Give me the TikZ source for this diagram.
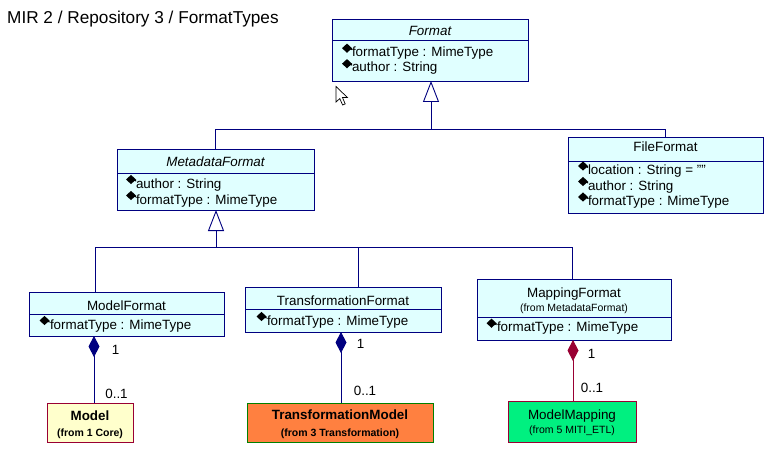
\documentclass[tikz,border=0pt]{standalone}
\usepackage{fontspec}
\setmainfont{Liberation Sans}
\usetikzlibrary{arrows.meta}
\definecolor{navy}{HTML}{000080}
\definecolor{clsfill}{HTML}{E0FFFF}
\definecolor{maroon}{HTML}{990033}
\definecolor{modelfill}{HTML}{FFFFCC}
\definecolor{orangefill}{HTML}{FF8040}
\definecolor{darkgreen}{HTML}{008000}
\definecolor{mapfill}{HTML}{00F080}
\tikzset{
  cls/.style={draw=navy, fill=clsfill, line width=0.9pt, inner sep=0pt, outer sep=0pt, anchor=north west},
  txt/.style={inner sep=0pt, outer sep=0pt, font=\fontsize{13.4}{16}\selectfont},
  cname/.style={txt, anchor=base},
  attr/.style={txt, anchor=base west},
  subtxt/.style={inner sep=0pt, outer sep=0pt, anchor=base, font=\fontsize{10.5}{12}\selectfont},
  mult/.style={txt, anchor=center},
  link/.style={draw=navy, line width=0.9pt},
  divline/.style={draw=navy, line width=0.9pt},
  gen/.style={link, -{Triangle[open, fill=white, length=21pt, width=16pt]}},
  comp/.style={link, {Diamond[length=21pt, width=11pt]}-},
  attricon/.pic={\fill (0,-4.6) -- (5,0) -- (0,4.6) -- (-5,0) -- cycle; \fill (0,0) -- (5,0) -- (5,2) -- cycle;}
}
\begin{document}
\begin{tikzpicture}[x=1pt,y=-1pt]
\useasboundingbox (0,0) rectangle (783,465);
\fill[white] (0,0) rectangle (783,465);

% title
\node[inner sep=0pt, anchor=base west, font=\fontsize{17.2}{20}\selectfont] (title) at (7,24) {MIR 2 / Repository 3 / FormatTypes};

% Format
\node[cls, minimum width=196pt, minimum height=62pt] (format) at (332,19) {};
\draw[divline] ([yshift=-21pt]format.north west) -- ([yshift=-21pt]format.north east);
\node[cname, font=\fontsize{13.4}{16}\selectfont\itshape] (formatname) at (430,35.7) {Format};
\pic at (347,48.2) {attricon};
\node[attr] (format1) at (352,56.5) {formatType : MimeType};
\pic at (347,63.7) {attricon};
\node[attr] (format2) at (352,72) {author : String};

% MetadataFormat
\node[cls, minimum width=197pt, minimum height=61pt] (metadata) at (117,149) {};
\draw[divline] ([yshift=-24pt]metadata.north west) -- ([yshift=-24pt]metadata.north east);
\node[cname, font=\fontsize{13.4}{16}\selectfont\itshape] (metaname) at (215.5,167) {MetadataFormat};
\pic at (131,179.5) {attricon};
\node[attr] (meta1) at (136,188) {author : String};
\pic at (131,195.5) {attricon};
\node[attr] (meta2) at (136,204) {formatType : MimeType};

% FileFormat
\node[cls, minimum width=195pt, minimum height=76pt] (fileformat) at (568,137) {};
\draw[divline] ([yshift=-24pt]fileformat.north west) -- ([yshift=-24pt]fileformat.north east);
\node[cname] (filename) at (665.5,151) {FileFormat};
\pic at (583,166) {attricon};
\node[attr] (file1) at (588,174.5) {location : String = ""};
\pic at (583,181.5) {attricon};
\node[attr] (file2) at (588,190) {author : String};
\pic at (583,197) {attricon};
\node[attr] (file3) at (588,205.5) {formatType : MimeType};

% ModelFormat
\node[cls, minimum width=195pt, minimum height=44pt] (modelformat) at (29,292) {};
\draw[divline] ([yshift=-22pt]modelformat.north west) -- ([yshift=-22pt]modelformat.north east);
\node[cname] (mfname) at (126.5,310.5) {ModelFormat};
\pic at (44.5,320.5) {attricon};
\node[attr] (mf1) at (50,329) {formatType : MimeType};

% TransformationFormat
\node[cls, minimum width=196pt, minimum height=45pt] (transformat) at (245,287) {};
\draw[divline] ([yshift=-22pt]transformat.north west) -- ([yshift=-22pt]transformat.north east);
\node[cname] (tfname) at (343,305) {TransformationFormat};
\pic at (261.5,316.5) {attricon};
\node[attr] (tf1) at (267,325) {formatType : MimeType};

% MappingFormat
\node[cls, minimum width=194pt, minimum height=61pt] (mapformat) at (477,279) {};
\draw[divline] ([yshift=-38pt]mapformat.north west) -- ([yshift=-38pt]mapformat.north east);
\node[cname] (mpname) at (574,297) {MappingFormat};
\node[subtxt] (mpsub) at (574,311.7) {(from MetadataFormat)};
\pic at (491.5,323.2) {attricon};
\node[attr] (mp1) at (497,331.7) {formatType : MimeType};

% Model
\node[draw=maroon, fill=modelfill, line width=0.9pt, inner sep=0pt, outer sep=0pt, anchor=north west, minimum width=86pt, minimum height=39pt] (model) at (47,403) {};
\node[cname, font=\fontsize{13.4}{16}\selectfont\bfseries] (modelname) at (90,420.7) {Model};
\node[subtxt, font=\fontsize{10.5}{12}\selectfont\bfseries] (modelsub) at (90,436.7) {(from 1 Core)};

% TransformationModel
\node[draw=darkgreen, fill=orangefill, line width=0.9pt, inner sep=0pt, outer sep=0pt, anchor=north west, minimum width=186pt, minimum height=39pt] (transmodel) at (247,403) {};
\node[cname, font=\fontsize{13.4}{16}\selectfont\bfseries] (tmname) at (340,419) {TransformationModel};
\node[subtxt, font=\fontsize{10.5}{12}\selectfont\bfseries] (tmsub) at (340,436.7) {(from 3 Transformation)};

% ModelMapping
\node[draw=maroon, fill=mapfill, line width=0.9pt, inner sep=0pt, outer sep=0pt, anchor=north west, minimum width=128pt, minimum height=41pt] (modelmapping) at (508,401) {};
\node[cname] (mmname) at (572,419) {ModelMapping};
\node[subtxt] (mmsub) at (572,433) {(from 5 MITI\_ETL)};

% generalization tree
\coordinate (j1) at (431,129);
\coordinate (j2) at (216,247);
\draw[link] (metadata.north) |- (j1);
\draw[link] (fileformat.north) |- (j1);
\draw[gen] (j1) -- (j1 |- format.south);
\coordinate (mfx) at ([xshift=66pt]modelformat.north west);
\coordinate (tfx) at ([xshift=113pt]transformat.north west);
\coordinate (mpx) at ([xshift=95.5pt]mapformat.north west);
\draw[link] (mfx) |- (j2);
\draw[link] (tfx) |- (j2);
\draw[link] (mpx) |- (j2);
\draw[gen] (j2) -- (j2 |- metadata.south);

% compositions
\coordinate (mfd) at ([xshift=65pt]modelformat.south west);
\coordinate (tfd) at ([xshift=96pt]transformat.south west);
\coordinate (mpd) at ([xshift=96pt]mapformat.south west);
\draw[comp, fill=navy] (mfd) -- (mfd |- model.north);
\draw[comp, fill=navy] (tfd) -- (tfd |- transmodel.north);
\draw[comp, draw=maroon, fill=maroon] (mpd) -- (mpd |- modelmapping.north);

% multiplicities
\node[mult] (m1a) at (115.5,349.5) {1};
\node[mult] (m1b) at (116.5,394) {0..1};
\node[mult] (m2a) at (360.5,343.5) {1};
\node[mult] (m2b) at (365,391) {0..1};
\node[mult] (m3a) at (591.5,353.5) {1};
\node[mult] (m3b) at (592,388) {0..1};

% mouse cursor
\draw[fill=white, line width=0.7pt, line join=miter] (336,86.5) -- (336,102) -- (339.8,98.6) -- (342.6,105) -- (345.2,103.9) -- (342.5,97.6) -- (347.5,97.6) -- cycle;
\end{tikzpicture}
\end{document}
